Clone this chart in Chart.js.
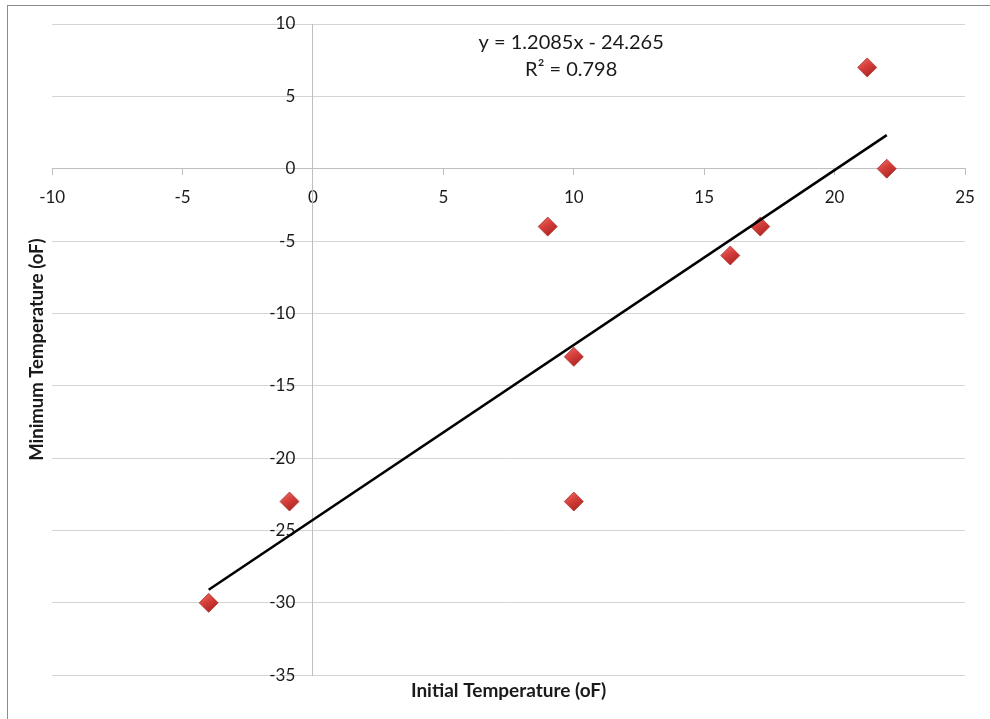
<!DOCTYPE html>
<html lang="en">
<head>
    <meta charset="UTF-8">
    <title>Initial vs Minimum Temperature</title>
    <script src="https://cdn.jsdelivr.net/npm/chart.js"></script>
    <style>
        html, body {
            margin: 0;
            padding: 0;
            background: #fff;
            overflow: hidden;
        }
        .wrap {
            position: relative;
            width: 990px;
            height: 719px;
        }
        .frame {
            position: absolute;
            left: 7px;
            top: 5px;
            width: 1000px;
            height: 730px;
            border-left: 1px solid #8c8c8c;
            border-top: 1px solid #8c8c8c;
            pointer-events: none;
        }
        canvas {
            position: absolute;
            left: 0;
            top: 0;
        }
    </style>
</head>
<body>
    <div class="wrap">
        <canvas id="grafico" width="990" height="719"></canvas>
        <div class="frame"></div>
    </div>

    <script>
        // Data
        const initialTemp = [-4, -0.9, 9, 10, 10, 16, 17.15, 21.25, 22];   // X
        const minimumTemp = [-30, -23, -4, -13, -23, -6, -4, 7, 0];       // Y

        // Axis ticks
        const xTicks = [-10, -5, 0, 5, 10, 15, 20, 25];
        const yTicks = [10, 5, 0, -5, -10, -15, -20, -25, -30, -35];

        // Linear trendline as shown on the chart
        const trendSlope = 1.2085;
        const trendIntercept = -24.265;
        const trendR2 = 0.798;

        const FONT = "Lato, 'Open Sans', sans-serif";
        const TEXT = "#1a1a1a";

        const xMin = Math.min(...initialTemp);
        const xMax = Math.max(...initialTemp);
        const trendPoints = [xMin, xMax].map(x => ({ x: x, y: trendSlope * x + trendIntercept }));

        // equation label, drawn next to the trendline like Excel does
        const trendLabel = {
            id: "trendLabel",
            afterDatasetsDraw(chart) {
                const c = chart.ctx;
                const px = chart.scales.x.getPixelForValue(9.9);
                const py = chart.scales.y.getPixelForValue(7.8);
                const sign = trendIntercept < 0 ? " - " : " + ";
                c.save();
                c.font = "20px " + FONT;
                c.fillStyle = TEXT;
                c.textAlign = "center";
                c.textBaseline = "middle";
                c.fillText("y = " + trendSlope + "x" + sign + Math.abs(trendIntercept), px, py - 13.5);
                c.fillText("R² = " + trendR2, px, py + 13.5);
                c.restore();
            }
        };

        function diamondFill(ctx) {
            const chart = ctx.chart;
            if (ctx.type !== "data" || !chart.chartArea) return "#c9403c";
            const px = chart.scales.x.getPixelForValue(ctx.parsed.x);
            const py = chart.scales.y.getPixelForValue(ctx.parsed.y);
            const g = chart.ctx.createLinearGradient(px - 6, py - 10, px + 6, py + 10);
            g.addColorStop(0, "#ec6b66");
            g.addColorStop(0.45, "#d43d39");
            g.addColorStop(1, "#a3201d");
            return g;
        }

        let ctx = document.getElementById("grafico").getContext("2d");
        let grafico = new Chart(ctx, {
            type: "scatter",
            data: {
                datasets: [
                    {
                        label: "Trendline",
                        type: "line",
                        data: trendPoints,
                        borderColor: "#000",
                        borderWidth: 2.5,
                        pointRadius: 0,
                        fill: false,
                        order: 0
                    },
                    {
                        label: "Minimum Temperature",
                        data: initialTemp.map((x, i) => ({ x: x, y: minimumTemp[i] })),
                        pointStyle: "rectRot",
                        pointRadius: 9.5,
                        backgroundColor: diamondFill,
                        borderColor: "#b0302c",
                        borderWidth: 0.8,
                        order: 1
                    }
                ]
            },
            options: {
                responsive: false,
                animation: false,
                layout: {
                    padding: { left: 20, right: 25, top: 24, bottom: 17 }
                },
                plugins: {
                    legend: { display: false },
                    tooltip: { enabled: false },
                    title: {
                        display: true,
                        text: "Initial Temperature (oF)",
                        position: "bottom",
                        fullSize: false,
                        color: TEXT,
                        font: { family: FONT, size: 19, weight: "bold" },
                        padding: { top: 4, bottom: 0 }
                    },
                    subtitle: {
                        display: true,
                        text: "Minimum Temperature (oF)",
                        position: "left",
                        fullSize: false,
                        color: TEXT,
                        font: { family: FONT, size: 18.5, weight: "bold" },
                        padding: { top: 6, bottom: 4 }
                    }
                },
                scales: {
                    x: {
                        type: "linear",
                        min: -10,
                        max: 25,
                        position: { y: 0 },
                        afterBuildTicks: s => { s.ticks = xTicks.map(v => ({ value: v })); },
                        grid: { drawOnChartArea: false, drawTicks: true, tickLength: 6, color: "#bfbfbf" },
                        border: { color: "#bfbfbf" },
                        ticks: { color: TEXT, font: { family: FONT, size: 17 }, padding: 13 }
                    },
                    // axis line and horizontal gridlines, crossing at x = 0
                    y: {
                        type: "linear",
                        min: -35,
                        max: 10,
                        position: { x: 0 },
                        afterBuildTicks: s => { s.ticks = yTicks.map(v => ({ value: v })); },
                        grid: { drawTicks: false, color: "#d4d4d4" },
                        border: { color: "#bfbfbf" },
                        ticks: { display: false }
                    },
                    // tick labels, set a little left of the axis line
                    yLabels: {
                        type: "linear",
                        axis: "y",
                        min: -35,
                        max: 10,
                        position: { x: -0.68 },
                        afterBuildTicks: s => { s.ticks = yTicks.map(v => ({ value: v })); },
                        grid: { display: false, drawTicks: false },
                        border: { display: false },
                        ticks: { color: TEXT, font: { family: FONT, size: 17 } }
                    }
                }
            },
            plugins: [trendLabel]
        });
    </script>
</body>
</html>
